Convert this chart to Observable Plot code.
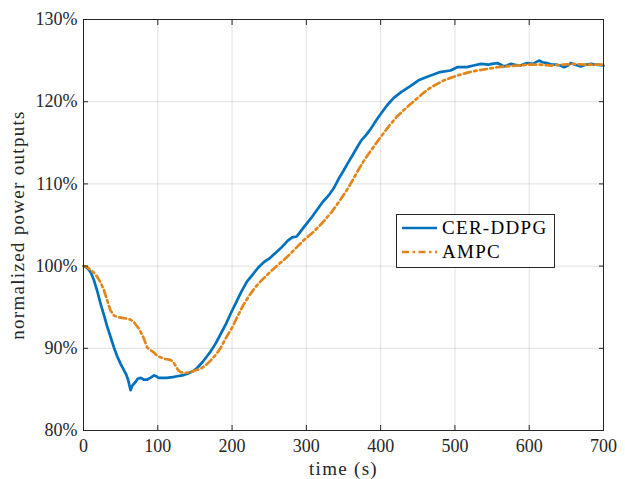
<!DOCTYPE html>
<html>
<head>
<meta charset="utf-8">
<script src="https://cdn.jsdelivr.net/npm/d3@7"></script>
<script src="https://cdn.jsdelivr.net/npm/@observablehq/plot@0.6"></script>
<style>
  body { margin: 0; background: white; }
  #wrap { position: relative; width: 625px; height: 479px; font-family: "Liberation Serif", serif; color: #262626; }
  #legend { position: absolute; left: 396px; top: 214px; width: 157px; height: 52px; border: 1px solid #262626; background: white; font-size: 19px; letter-spacing: 1.3px; font-family: "Liberation Serif", serif; color: #000; }
  .row { position: absolute; left: 5px; height: 20px; display: flex; align-items: center; white-space: nowrap; }
  .row svg { margin-right: 5px; }
</style>
</head>
<body>
<div id="wrap"></div>
<script>
const xTicks = [0, 100, 200, 300, 400, 500, 600, 700];
const yTicks = [80, 90, 100, 110, 120, 130];
const seriesNames = ["CER-DDPG", "AMPC"];
const colors = ["#0072BD", "#E3861A"];

const cerT = [0,5,10,14,19,23,28,32,36,41,45,50,53,57,60,63.3,66,70,73,77,81,86,90,95,98,101,106,112,120,126,133,140,147,153,160,166,171,178,185,192,198,205,212,220,228,235,243,250,256,261,268,275,281,287,292,298,306,314,322,330,337,344,350,355,361,368,374,380,386,393,400,409,418,428,440,451,462,471,480,494,503,516,525,535,545,550,557,562,566,570,575,581,588,597,605,613,618,624,630,637,642,647,652,656,662,669,676,683,690,700];
const cerV = [100,99.8,99.2,98.3,96.8,95.4,93.9,92.6,91.5,90.1,89.1,88.1,87.6,86.9,86.2,84.9,85.5,85.9,86.3,86.4,86.2,86.2,86.4,86.7,86.6,86.4,86.4,86.4,86.5,86.6,86.7,86.9,87.2,87.6,88.3,89.0,89.6,90.6,91.8,93.0,94.2,95.5,96.8,98.1,99.0,99.8,100.5,100.9,101.4,101.8,102.4,103.1,103.5,103.6,104.2,104.9,105.8,106.8,107.8,108.6,109.5,110.7,111.6,112.4,113.3,114.4,115.3,115.9,116.6,117.6,118.5,119.6,120.5,121.2,121.9,122.6,123.0,123.3,123.6,123.8,124.2,124.2,124.4,124.6,124.5,124.6,124.7,124.5,124.3,124.4,124.6,124.5,124.4,124.7,124.6,125.0,124.8,124.7,124.5,124.5,124.4,124.2,124.4,124.7,124.5,124.3,124.5,124.6,124.5,124.4];

const ampcT = [0,5,9.4,14,18.4,23,27.4,32,36.3,41,45.3,52,58.8,63,67.7,71,74.5,78,81.2,85.7,90,94.6,99,103.6,110,117,121,123.8,127,130.5,137,144,150,157.5,164,171,178,184.4,192,200,208,215.4,223,231,239,247,255,265,274,285,296,310,323,335,346,357,368,378,388,400,411,422,435,449,462,471,485,494,507.5,520,530,545,557,570,584,600,615,630,645,660,675,690,700];
const ampcV = [100,99.9,99.5,99.2,98.7,98.0,97.1,95.8,94.6,94.0,93.8,93.7,93.6,93.5,93.2,92.8,92.4,91.8,91.2,90.1,89.8,89.5,89.1,88.9,88.7,88.6,88.3,87.9,87.4,87.1,87.0,87.1,87.3,87.5,87.9,88.5,89.2,90.0,91.3,92.5,94.0,95.3,96.4,97.4,98.2,98.9,99.6,100.4,101.1,102.1,103.1,104.2,105.4,106.7,108.1,109.6,111.4,112.9,114.2,115.7,117.0,118.2,119.3,120.4,121.4,121.9,122.6,122.9,123.3,123.6,123.8,124.0,124.2,124.3,124.4,124.5,124.5,124.4,124.5,124.6,124.5,124.5,124.5];

const cer = cerT.map((t, i) => ({t, v: cerV[i]}));
const ampc = ampcT.map((t, i) => ({t, v: ampcV[i]}));

const axisColor = "#262626";
const font = {fontFamily: "Liberation Serif", fontSize: 18};
const chart = Plot.plot({
  width: 625,
  height: 479,
  marginLeft: 83,
  marginRight: 22,
  marginTop: 19,
  marginBottom: 49,
  style: {fontFamily: "Liberation Serif", fontSize: "18px", color: axisColor, background: "white", overflow: "visible"},
  x: {domain: [0, 700]},
  y: {domain: [80, 130]},
  marks: [
    Plot.gridX(xTicks, {stroke: "#000", strokeOpacity: 0.12, strokeWidth: 1}),
    Plot.gridY(yTicks, {stroke: "#000", strokeOpacity: 0.12, strokeWidth: 1}),
    Plot.line(cer, {x: "t", y: "v", stroke: colors[0], strokeWidth: 2.7, curve: "linear"}),
    Plot.line(ampc, {x: "t", y: "v", stroke: colors[1], strokeWidth: 2.7, strokeDasharray: "7,3.5,2.5,3.5", curve: "linear"}),
    Plot.frame({stroke: axisColor, strokeWidth: 1}),
    Plot.axisX(xTicks, {...font, anchor: "bottom", tickSize: -5, tickPadding: 14, label: "time (s)", labelAnchor: "center", labelArrow: "none", labelOffset: 44, stroke: axisColor, fill: axisColor}),
    Plot.axisX(xTicks, {anchor: "top", tickSize: -5, tickFormat: () => "", label: null, stroke: axisColor}),
    Plot.axisY(yTicks, {...font, anchor: "left", tickSize: -5, tickPadding: 11, tickFormat: d => d + "%", label: "normalized power outputs", labelAnchor: "center", labelOffset: 73, labelArrow: "none", stroke: axisColor, fill: axisColor}),
    Plot.axisY(yTicks, {anchor: "right", tickSize: -5, tickFormat: () => "", label: null, stroke: axisColor})
  ]
});

chart.querySelectorAll('[aria-label="x-axis label"], [aria-label="y-axis label"]').forEach(g => {
  g.setAttribute("font-size", "19");
  g.setAttribute("letter-spacing", "1.3");
  g.querySelectorAll("text").forEach(t => { t.setAttribute("font-size", "19"); t.setAttribute("letter-spacing", "1.3"); });
});

const wrap = document.getElementById("wrap");
wrap.appendChild(chart);

const legend = document.createElement("div");
legend.id = "legend";
seriesNames.forEach((name, i) => {
  const row = document.createElement("div");
  row.className = "row";
  row.style.top = (3 + i * 24) + "px";
  const dash = i === 1 ? 'stroke-dasharray="7,3.5,2.5,3.5"' : "";
  row.innerHTML = `<svg width="35" height="6"><line x1="0" y1="3" x2="35" y2="3" stroke="${colors[i]}" stroke-width="2.6" ${dash}/></svg><span>${name}</span>`;
  legend.appendChild(row);
});
wrap.appendChild(legend);
</script>
</body>
</html>
